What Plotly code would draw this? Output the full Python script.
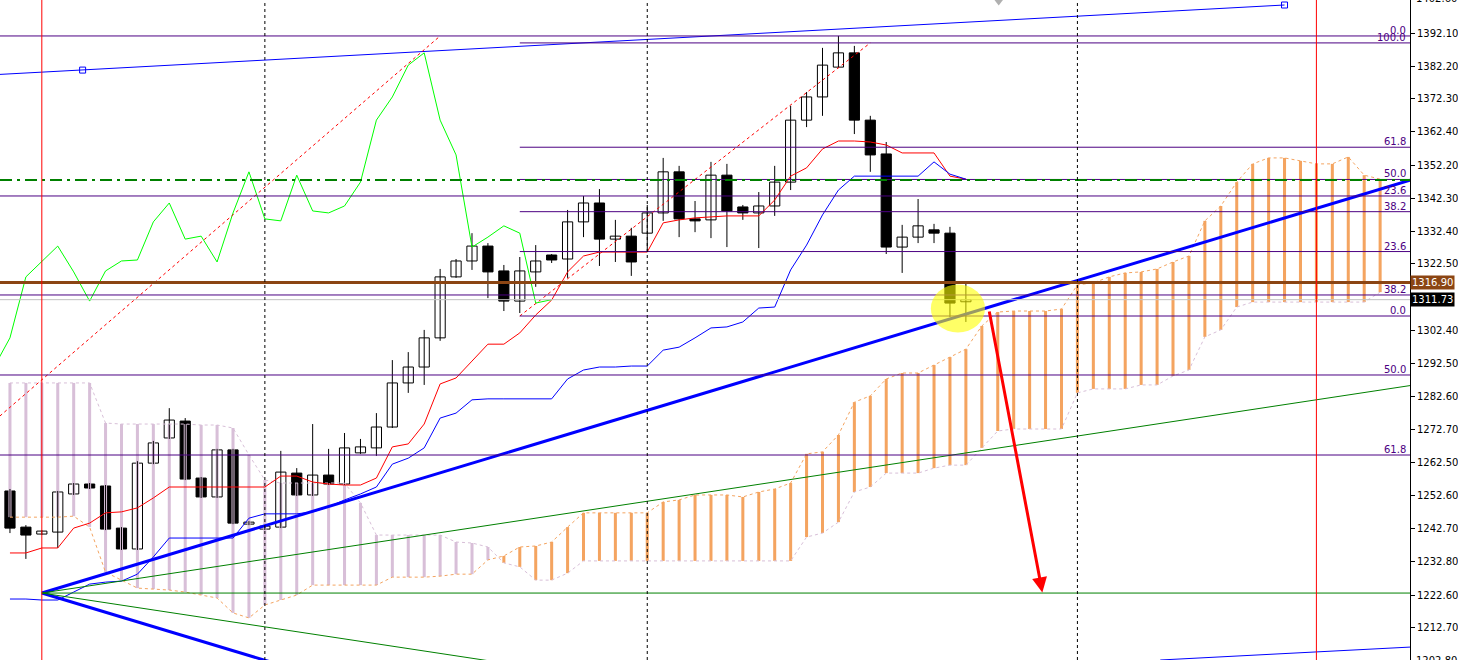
import plotly.graph_objects as go

# ---------------- data ----------------
opens = [1254.0, 1243.1, 1241.0, 1241.6, 1253.1, 1256.1, 1255.5, 1242.8, 1236.5, 1262.4,
         1270.0, 1275.1, 1257.9, 1252.2, 1266.4, 1244.0, 1242.5, 1243.1, 1259.4, 1252.8,
         1258.8, 1256.1, 1265.5, 1267.0, 1273.3, 1286.6, 1291.4, 1300.2, 1318.6, 1323.4,
         1327.9, 1320.4, 1311.3, 1320.1, 1325.2, 1324.0, 1335.2, 1340.9, 1330.0, 1330.9,
         1331.8, 1337.9, 1350.3, 1336.1, 1335.8, 1349.3, 1339.7, 1337.9, 1340.0, 1347.2,
         1365.9, 1372.9, 1381.9, 1386.2, 1365.9, 1355.7, 1327.6, 1330.6, 1332.8, 1331.8,
         1311.1]
highs = [1254.6, 1243.7, 1242.2, 1254.0, 1256.4, 1256.4, 1255.8, 1243.1, 1263.0, 1269.1,
         1279.0, 1276.0, 1258.2, 1266.7, 1266.7, 1244.9, 1243.7, 1266.1, 1260.9, 1274.2,
         1266.7, 1271.5, 1269.7, 1277.5, 1293.5, 1295.9, 1302.6, 1321.0, 1324.0, 1331.8,
         1328.8, 1322.2, 1324.6, 1328.2, 1325.5, 1338.8, 1343.0, 1345.1, 1335.8, 1333.4,
         1340.3, 1354.5, 1352.1, 1341.5, 1353.3, 1352.7, 1340.3, 1344.2, 1352.1, 1370.2,
         1374.4, 1387.7, 1391.3, 1388.3, 1367.2, 1359.3, 1334.3, 1342.1, 1334.6, 1333.7,
         1316.5]
lows = [1241.3, 1233.5, 1240.7, 1236.8, 1252.8, 1254.6, 1242.2, 1236.2, 1236.2, 1262.1,
        1269.7, 1257.3, 1251.9, 1251.9, 1244.0, 1243.7, 1242.2, 1242.8, 1252.5, 1252.5,
        1255.8, 1255.8, 1265.2, 1264.6, 1273.0, 1283.6, 1286.0, 1299.3, 1318.3, 1320.7,
        1312.2, 1308.3, 1307.7, 1315.6, 1322.8, 1318.3, 1330.6, 1321.9, 1323.1, 1318.9,
        1326.1, 1335.5, 1330.6, 1332.1, 1330.3, 1327.6, 1335.8, 1327.3, 1337.0, 1344.8,
        1363.8, 1367.2, 1381.6, 1361.7, 1350.3, 1325.5, 1319.8, 1328.8, 1328.8, 1306.5,
        1305.0]
closes = [1242.8, 1240.7, 1241.9, 1253.7, 1256.1, 1254.9, 1242.5, 1236.5, 1262.4, 1268.5,
          1275.4, 1257.6, 1252.2, 1266.4, 1244.3, 1244.6, 1243.4, 1259.7, 1252.8, 1258.8,
          1256.1, 1267.0, 1267.3, 1273.3, 1286.6, 1291.4, 1300.2, 1318.6, 1323.4, 1327.9,
          1320.1, 1311.3, 1320.4, 1323.4, 1323.7, 1335.2, 1340.9, 1330.0, 1330.9, 1323.1,
          1337.9, 1350.3, 1336.1, 1335.5, 1349.3, 1338.5, 1337.9, 1340.0, 1347.2, 1365.9,
          1372.9, 1382.5, 1386.2, 1365.9, 1355.4, 1327.6, 1330.6, 1334.0, 1331.8, 1310.7,
          1311.73]
tenkan = [1235.3, 1235.3, 1236.8, 1236.8, 1242.8, 1244.3, 1247.4, 1247.7, 1248.9, 1251.9,
          1255.2, 1255.2, 1255.2, 1255.2, 1255.2, 1255.2, 1255.2, 1258.5, 1258.5, 1256.7,
          1256.1, 1255.8, 1255.8, 1257.9, 1267.3, 1268.2, 1274.2, 1286.3, 1288.1, 1293.2,
          1298.3, 1298.3, 1301.7, 1307.1, 1311.6, 1320.1, 1324.9, 1326.1, 1326.1, 1326.1,
          1326.1, 1334.9, 1335.8, 1336.4, 1336.7, 1337.0, 1337.0, 1337.0, 1341.8, 1349.0,
          1351.5, 1357.2, 1359.6, 1359.6, 1359.3, 1358.4, 1356.0, 1356.0, 1356.0, 1349.0,
          1348.1]
kijun = [1221.4, 1221.4, 1221.1, 1221.1, 1223.5, 1225.9, 1226.5, 1226.8, 1228.9, 1234.1,
         1239.8, 1239.8, 1239.8, 1239.8, 1239.8, 1245.8, 1247.1, 1247.1, 1247.1, 1247.7,
         1249.2, 1251.3, 1253.1, 1255.2, 1262.1, 1263.9, 1267.0, 1276.0, 1277.5, 1281.5,
         1281.8, 1281.8, 1281.8, 1281.8, 1281.8, 1287.8, 1290.5, 1291.4, 1291.4, 1291.7,
         1291.7, 1296.5, 1297.4, 1300.2, 1303.2, 1303.5, 1305.0, 1309.2, 1309.5, 1320.7,
         1328.2, 1337.3, 1344.8, 1349.0, 1349.0, 1349.0, 1349.0, 1349.0, 1353.3, 1349.6,
         1348.1]
span_a = [1246.1, 1246.1, 1246.1, 1246.1, 1246.4, 1243.1, 1229.5, 1227.1, 1224.7, 1224.4,
          1224.1, 1223.5, 1222.6, 1221.7, 1217.2, 1215.7, 1219.6, 1221.1, 1222.6, 1225.6,
          1225.6, 1225.6, 1225.6, 1225.6, 1228.0, 1228.0, 1228.0, 1228.3, 1228.9, 1228.9,
          1233.2, 1234.4, 1237.1, 1237.4, 1238.6, 1243.1, 1247.4, 1247.4, 1247.4, 1247.4,
          1247.4, 1250.7, 1251.3, 1252.8, 1252.8, 1252.8, 1252.2, 1253.7, 1254.6, 1256.4,
          1265.2, 1265.8, 1270.9, 1280.8, 1282.7, 1287.8, 1289.6, 1289.6, 1292.0, 1294.4,
          1296.8, 1303.8, 1308.0, 1308.3, 1308.3, 1308.3, 1308.9, 1316.2, 1316.8, 1318.6,
          1319.8, 1320.1, 1321.0, 1323.1, 1324.9, 1335.5, 1340.0, 1347.2, 1352.7, 1354.5,
          1354.5, 1353.6, 1352.7, 1352.7, 1354.8, 1349.3, 1348.1]
span_b = [1286.6, 1286.6, 1286.6, 1286.6, 1286.6, 1286.6, 1274.5, 1274.2, 1274.2, 1274.2,
          1274.2, 1274.2, 1273.9, 1273.9, 1273.0, 1264.9, 1257.3, 1256.4, 1256.4, 1256.4,
          1256.4, 1256.4, 1250.4, 1240.7, 1240.7, 1240.7, 1240.7, 1240.7, 1238.6, 1238.3,
          1237.1, 1232.3, 1231.1, 1227.1, 1227.1, 1229.2, 1232.9, 1232.9, 1232.9, 1232.9,
          1232.9, 1232.9, 1232.9, 1232.9, 1232.9, 1232.9, 1232.9, 1232.9, 1232.9, 1232.9,
          1240.1, 1241.3, 1244.6, 1253.7, 1255.2, 1259.4, 1259.4, 1259.4, 1260.9, 1261.8,
          1261.8, 1267.0, 1272.1, 1272.7, 1272.7, 1272.7, 1272.7, 1283.6, 1284.8, 1284.8,
          1284.8, 1286.0, 1286.0, 1288.7, 1290.5, 1300.5, 1302.6, 1309.5, 1311.0, 1311.0,
          1311.0, 1311.0, 1311.0, 1311.0, 1311.0, 1311.0, 1314.0]

tick_vals = [1392.10, 1382.20, 1372.30, 1362.40, 1352.20, 1342.30, 1332.40, 1322.50,
             1302.40, 1292.50, 1282.60, 1272.70, 1262.50, 1252.60, 1242.70, 1232.80,
             1222.60, 1212.70]
edge_ticks = [1402.60, 1202.80]

fib_ratios = [0.0, 23.6, 38.2, 50.0, 61.8, 100.0]
fib_a_low, fib_a_high, fib_a_start_bar = 1306.8, 1389.2, 32
fib_b_high, fib_b_low = 1391.3, 1186.7

support_price = 1316.90
last_price = 1311.73
signal_price = 1347.8
fan_base_price = 1223.2

red_vlines = [2, 82]
sep_vlines = [16, 40, 67]
shift_marker_bar = 62.06

# ---------------- layout constants ----------------
X_LO, X_HI = -0.625, 87.875
Y_LO, Y_HI = 1203.0, 1402.15
INDIGO = '#4B0082'
FONT = 'DejaVu Sans'

n = len(opens)
bars = list(range(n))
fig = go.Figure()

# wicks
wx, wy = [], []
for k in bars:
    wx += [k, k, None]
    wy += [lows[k], highs[k], None]
fig.add_trace(go.Scatter(x=wx, y=wy, mode='lines', line=dict(color='black', width=1),
                         hoverinfo='skip', showlegend=False))
# bodies
fig.add_trace(go.Bar(
    x=bars, base=[min(o, c) for o, c in zip(opens, closes)],
    y=[max(abs(c - o), 0.3) for o, c in zip(opens, closes)],
    width=0.64,
    marker=dict(color=['white' if c >= o else 'black' for o, c in zip(opens, closes)],
                line=dict(color='black', width=1)),
    showlegend=False, hoverinfo='skip'))

# cloud histogram
cb = list(range(len(span_a)))
fig.add_trace(go.Bar(
    x=cb, base=[min(a, b) for a, b in zip(span_a, span_b)],
    y=[abs(a - b) for a, b in zip(span_a, span_b)], width=0.19,
    marker=dict(color=['#F4A460' if a > b else '#D8BFD8' for a, b in zip(span_a, span_b)],
                line=dict(width=0)),
    showlegend=False, hoverinfo='skip'))
fig.add_trace(go.Scatter(x=cb, y=span_a, mode='lines',
                         line=dict(color='#F4A460', width=1, dash='3px,3px'),
                         showlegend=False, hoverinfo='skip'))
fig.add_trace(go.Scatter(x=cb, y=span_b, mode='lines',
                         line=dict(color='#D8BFD8', width=1, dash='3px,3px'),
                         showlegend=False, hoverinfo='skip'))
# tenkan / kijun / chikou
fig.add_trace(go.Scatter(x=bars, y=tenkan, mode='lines', line=dict(color='#FF0000', width=1),
                         showlegend=False, hoverinfo='skip'))
fig.add_trace(go.Scatter(x=bars, y=kijun, mode='lines', line=dict(color='#0000FF', width=1),
                         showlegend=False, hoverinfo='skip'))
fig.add_trace(go.Scatter(x=[k - 26 for k in bars], y=closes, mode='lines',
                         line=dict(color='#00FF00', width=1),
                         showlegend=False, hoverinfo='skip'))

# trend lines (bar, price) pairs
trend_lines = [
    ((2, fan_base_price), (X_HI, 1347.8), '#0000FF', 3, 'solid'),
    ((2, fan_base_price), (16.5, 1202.2), '#0000FF', 3, 'solid'),
    ((2, fan_base_price), (X_HI, 1285.8), '#008000', 1, 'solid'),
    ((2, fan_base_price), (30.0, 1202.8), '#008000', 1, 'solid'),
    ((2, fan_base_price), (X_HI, fan_base_price), '#008000', 1, 'solid'),
    ((X_LO, 1379.7), (80.0, 1400.64), '#0000FF', 1, 'solid'),
    ((72.2, 1203.0), (X_HI, 1206.9), '#0000FF', 1, 'solid'),
    ((-22.3, 1186.7), (27.0, 1391.3), '#FF0000', 1, 'dot'),
    ((32.0, 1306.8), (54.0, 1389.2), '#FF0000', 1, 'dot'),
]
for (x0, y0), (x1, y1), col, w, dash in trend_lines:
    fig.add_trace(go.Scatter(x=[x0, x1], y=[y0, y1], mode='lines',
                             line=dict(color=col, width=w, dash=dash),
                             showlegend=False, hoverinfo='skip'))
fig.add_trace(go.Scatter(x=[4.56, 80.0], y=[1381.0, 1400.64], mode='markers',
                         marker=dict(symbol='square-open', size=6, color='#0000FF',
                                     line=dict(width=1)),
                         showlegend=False, hoverinfo='skip'))
# chart shift marker at top edge
fig.add_trace(go.Scatter(x=[shift_marker_bar], y=[Y_HI], mode='markers',
                         marker=dict(symbol='triangle-down', size=11, color='#B0B0B0'),
                         showlegend=False, hoverinfo='skip'))

shapes = []
annotations = []

def hline(y, color, width=1, dash='solid', x0=None):
    if x0 is None:
        shapes.append(dict(type='line', xref='paper', x0=0, x1=1, yref='y', y0=y, y1=y,
                           line=dict(color=color, width=width, dash=dash), layer='above'))
    else:
        shapes.append(dict(type='line', xref='x', x0=x0, x1=X_HI, yref='y', y0=y, y1=y,
                           line=dict(color=color, width=width, dash=dash), layer='above'))

def fib_label(y, txt):
    annotations.append(dict(xref='paper', x=1, xanchor='right', xshift=-2, yref='y', y=y,
                            yanchor='bottom', yshift=-2, text=txt, showarrow=False,
                            font=dict(family=FONT, size=10, color=INDIGO)))

# fib B (full width)
for r in fib_ratios:
    lvl = fib_b_high - r / 100 * (fib_b_high - fib_b_low)
    if lvl > Y_LO:
        hline(lvl, INDIGO)
        fib_label(lvl, f'{r:.1f}')
# fib A (from its start bar)
for r in fib_ratios:
    lvl = fib_a_low + r / 100 * (fib_a_high - fib_a_low)
    hline(lvl, INDIGO, x0=fib_a_start_bar)
    fib_label(lvl, f'{r:.1f}')

hline(signal_price, '#008000', 2, '12px,5px,3px,5px')
hline(last_price, '#C0C0C0', 1)
hline(support_price, '#8B4513', 3)

for b in red_vlines:
    shapes.append(dict(type='line', xref='x', x0=b, x1=b, yref='paper', y0=0, y1=1,
                       line=dict(color='#FF0000', width=1), layer='above'))
for b in sep_vlines:
    shapes.append(dict(type='line', xref='x', x0=b, x1=b, yref='paper', y0=0, y1=1,
                       line=dict(color='black', width=1, dash='3px,3px'), layer='above'))

# highlight circle
shapes.append(dict(type='circle', xref='x', yref='y', x0=57.8, x1=61.2, y0=1301.8, y1=1316.3,
                   fillcolor='rgba(255,255,0,0.6)', line=dict(width=0), layer='above'))

# arrow
annotations.append(dict(x=64.8, y=1223.4, ax=61.45, ay=1308.6, xref='x', yref='y',
                        axref='x', ayref='y', showarrow=True, arrowhead=2, arrowsize=1,
                        arrowwidth=3, arrowcolor='#FF0000', text=''))

# price boxes on the axis
annotations.append(dict(xref='paper', x=1, xanchor='left', yref='y', y=support_price,
                        text=f'{support_price:.2f}', showarrow=False, bgcolor='#8B4513',
                        font=dict(family=FONT, size=10, color='white'), borderpad=1))
annotations.append(dict(xref='paper', x=1, xanchor='left', yref='y', y=last_price,
                        text=f'{last_price:.2f}', showarrow=False, bgcolor='black',
                        font=dict(family=FONT, size=10, color='white'), borderpad=1))
for v in edge_ticks:
    annotations.append(dict(xref='paper', x=1, xanchor='left', xshift=4, yref='paper',
                            y=(v - Y_LO) / (Y_HI - Y_LO), yanchor='middle',
                            text=f'{v:.2f}', showarrow=False,
                            font=dict(family=FONT, size=10, color='black')))

fig.update_layout(
    width=1458, height=660, autosize=False,
    margin=dict(l=0, r=42, t=0, b=0),
    paper_bgcolor='white', plot_bgcolor='white',
    barmode='overlay', showlegend=False,
    xaxis=dict(range=[X_LO, X_HI], visible=False, showgrid=False, zeroline=False),
    yaxis=dict(range=[Y_LO, Y_HI], side='right', tickvals=tick_vals,
               ticktext=[f'{v:.2f}' for v in tick_vals], ticks='outside', ticklen=4,
               tickcolor='black', showline=True, linecolor='black', linewidth=1,
               showgrid=False, zeroline=False,
               tickfont=dict(family=FONT, size=10, color='black')),
    shapes=shapes, annotations=annotations,
)

fig.write_html('out.html', config={'displayModeBar': False},
               post_script="document.body.style.margin='0px';"
                           "document.body.style.overflow='hidden';")
